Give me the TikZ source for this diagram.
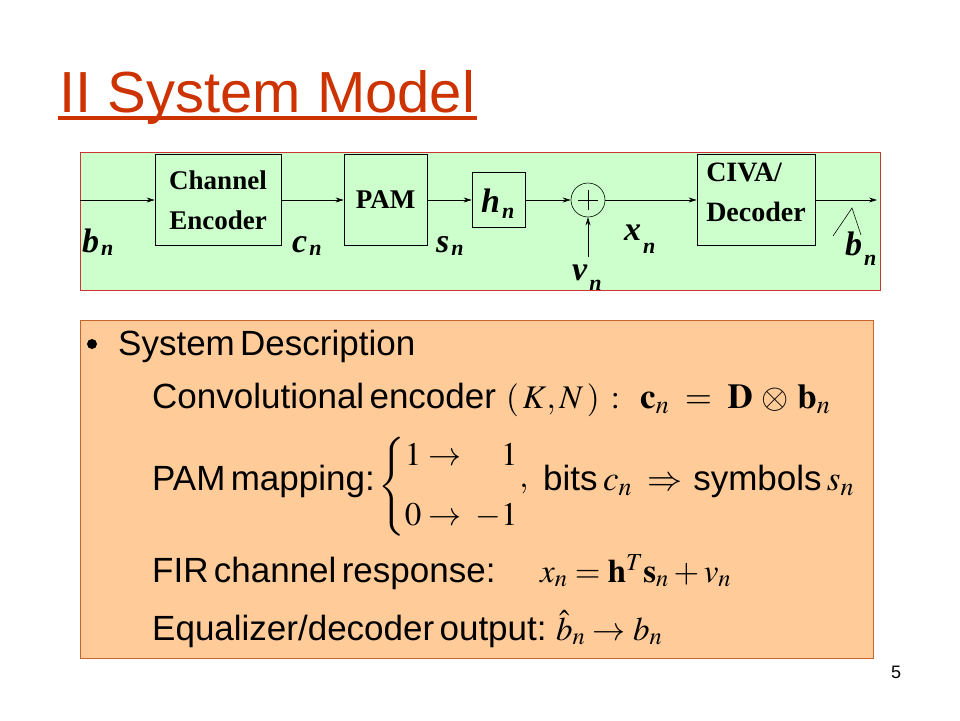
\documentclass[tikz,border=0pt]{standalone}
\usepackage{amsmath}
\usepackage{mathptmx}
\usepackage[no-math]{fontspec}
\setmainfont{Liberation Sans}[WordSpace=0.55]
\newfontfamily\titlefont{Liberation Sans}
\newfontfamily\serifbox{Liberation Serif}
\usetikzlibrary{arrows.meta,positioning,calc}

\definecolor{titlered}{HTML}{CC3300}
\definecolor{gfill}{HTML}{CCFFCC}
\definecolor{gbord}{HTML}{CC3333}
\definecolor{ofill}{HTML}{FFCC99}
\definecolor{obord}{HTML}{C8642D}

\tikzset{
    blk/.style={draw=black, line width=0.7pt, inner sep=0pt, align=center,
        font=\serifbox\bfseries\fontsize{27}{40}\selectfont},
    sig/.style={-{Stealth[length=8pt,width=5pt]}, line width=0.7pt},
    lab/.style={anchor=base west, inner sep=0pt,
        font=\serifbox\bfseries\itshape\fontsize{34}{40}\selectfont},
    txt/.style={anchor=base west, inner sep=0pt, font=\fontsize{35}{42}\selectfont},
    mth/.style={anchor=base west, inner sep=0pt, font=\fontsize{33}{40}\selectfont},
}
\newcommand{\subn}[1]{\raisebox{-#1pt}{\fontsize{22}{24}\selectfont\kern2pt n}}

\begin{document}
\begin{tikzpicture}[x=1pt, y=-1pt]
    \useasboundingbox (0,0) rectangle (960,720);

    % title
    \node[anchor=base west, inner sep=0pt, text=titlered, font=\titlefont\fontsize{58}{60}\selectfont]
        (title) at (59,112) {II System Model};
    \draw[titlered, line width=3.5pt] ($(title.base west)+(-1,6)$) -- ($(title.base east)+(2,6)$);

    % block diagram
    \node[draw=gbord, fill=gfill, line width=0.8pt, minimum width=800, minimum height=138,
        inner sep=0pt] (sysbox) at (480,221) {};

    \node[blk, minimum width=126, minimum height=91] (enc) at (218,200) {Channel\\Encoder};
    \node[blk, minimum width=83, minimum height=91] (pam) at (385.5,200) {PAM};
    \node[blk, minimum width=53, minimum height=55] (chan) at (498.5,200) {};
    \node[draw, circle, minimum size=34, inner sep=0pt, line width=0.6pt] (add) at (588,200) {};
    \node[blk, minimum width=118, minimum height=91] (dec) at (756,200) {};
    \node[blk, draw=none, align=left, font=\serifbox\bfseries\fontsize{28}{40}\selectfont]
        (dectxt) at ($(dec.center)+(0,-8)$) {CIVA/\\Decoder};

    \draw[line width=0.5pt] ($(add.center)+(-10,0)$) -- ($(add.center)+(10,0)$);
    \draw[line width=0.5pt] ($(add.center)+(0,-10)$) -- ($(add.center)+(0,10)$);

    \coordinate (in) at (80,200);
    \coordinate (out) at (877,200);
    \coordinate (vin) at (588,257);

    \draw[sig] (in) -- (enc);
    \draw[sig] (enc) -- (pam);
    \draw[sig] (pam) -- (chan);
    \draw[sig] (chan) -- (add);
    \draw[sig] (add) -- (dec);
    \draw[sig] (dec) -- (out);
    \draw[sig] (vin) -- (add);

    \node[lab] (bn) at (82,252) {b\subn{3}};
    \node[lab] (cn) at (292,252) {c\subn{3}};
    \node[lab] (sn) at (436,252) {s\subn{3}};
    \node[lab] (hn) at (481,212) {h\subn{6}};
    \node[lab] (vn) at (572,280) {v\subn{10}};
    \node[lab] (xn) at (624,240) {x\subn{13}};
    \node[lab] (bhat) at (845,255) {b\subn{10}};
    \draw[line width=0.6pt] ($(bhat.base west)+(-12,-19)$) -- ($(bhat.base west)+(7,-47)$)
        -- ($(bhat.base west)+(16,-20)$);

    % description
    \node[draw=obord, fill=ofill, line width=0.8pt, minimum width=793, minimum height=338,
        inner sep=0pt] (descbox) at (476.5,489) {};
    \node[circle, fill=black, minimum size=10, inner sep=0pt] (bul) at (92,344) {};

    \node[txt] (sysdesc) at (118,355) {System Description};

    \node[txt] (conv) at (152,408) {Convolutional encoder};
    \node[mth] (kn) at (506,408) {$(\,K{,}\,N\,)\,:$};
    \node[mth, font=\fontsize{35}{40}\selectfont] (cnd) at (640,408)
        {$\mathbf{c}_n\;=\;\mathbf{D}\,\otimes\,\mathbf{b}_n$};

    \node[txt] (pamline) at (152,490) {PAM mapping:};
    \node[mth, anchor=west] (map) at (378,487)
        {$\left\{\begin{array}{@{}l@{\hspace{14pt}}r@{}}1\rightarrow & 1\\[20pt] 0\rightarrow & -1\end{array}\right.$};
    \node[mth] (comma) at (map.east) {$,$};
    \node[txt] (bits) at (543,490) {bits\ $c_n\;\Rightarrow$\ \ symbols\ $s_n$};

    \node[txt] (fir) at (152,582) {FIR channel response:};
    \node[mth] (firmath) at (540,582) {$x_n=\mathbf{h}^T\mathbf{s}_n+v_n$};

    \node[txt] (eqout) at (152,640) {Equalizer/decoder output:};
    \node[mth] (eqmath) at (556,640) {$\hat{b}_n\rightarrow b_n$};

    \node[anchor=base, inner sep=0pt, font=\fontsize{18}{20}\selectfont] (pagenum) at (896,678) {5};
\end{tikzpicture}
\end{document}
